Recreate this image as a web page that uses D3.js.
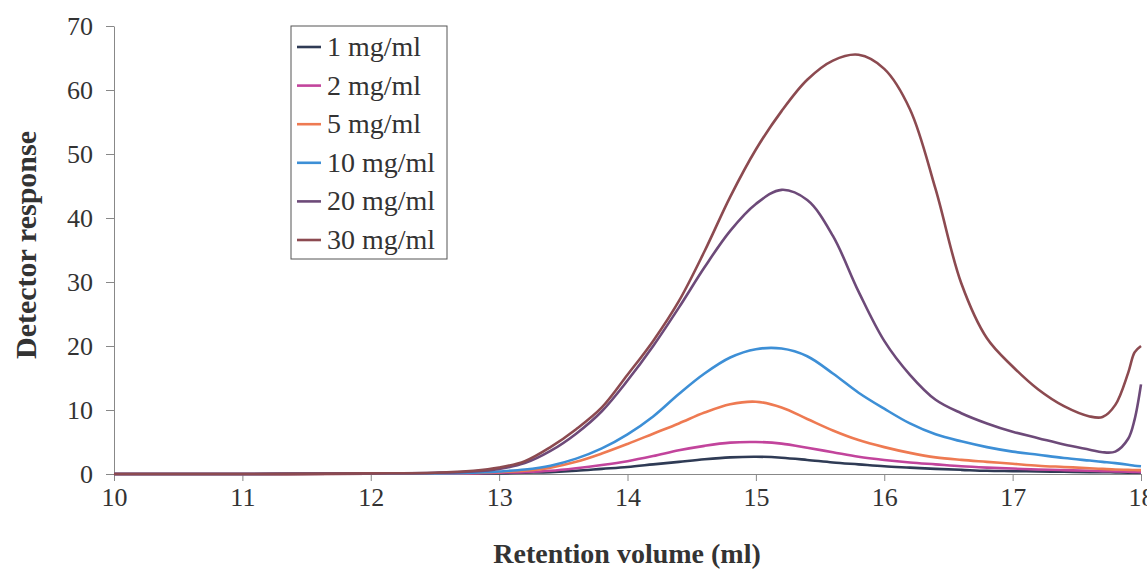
<html>
<head>
<script src="https://d3js.org/d3.v7.min.js"></script>
<style>
  body { margin: 0; background: #fff; }
  text { font-family: "Liberation Serif", "Times New Roman", serif; fill: #333; }
  .axis path, .axis line { stroke: #888; }
  .axis text { font-size: 26px; fill: #333; font-family: "Liberation Serif", serif; }
</style>
</head>
<body>
<svg width="1147" height="570"></svg>
<script>
// retention volume grid (ml)
var volume = [10, 11, 12, 12.5, 12.8, 13, 13.2, 13.4, 13.6, 13.8, 14, 14.2, 14.4, 14.6, 14.8, 15, 15.2, 15.4, 15.6, 15.8, 16, 16.2, 16.4, 16.6, 16.8, 17, 17.2, 17.4, 17.6, 17.7, 17.8, 17.9, 17.95, 18];

var c1  = [0, 0, 0.05, 0.05, 0.05, 0.1, 0.2, 0.3, 0.5, 0.8, 1.1, 1.5, 1.9, 2.3, 2.6, 2.7, 2.55, 2.2, 1.8, 1.5, 1.2, 1.0, 0.8, 0.65, 0.5, 0.45, 0.4, 0.35, 0.3, 0.28, 0.25, 0.22, 0.21, 0.2];
var c2  = [0, 0, 0.05, 0.05, 0.1, 0.2, 0.3, 0.5, 0.9, 1.4, 2.0, 2.8, 3.7, 4.4, 4.9, 5.0, 4.75, 4.1, 3.4, 2.7, 2.2, 1.8, 1.5, 1.2, 1.0, 0.85, 0.7, 0.6, 0.5, 0.45, 0.4, 0.35, 0.32, 0.3];
var c5  = [0, 0, 0.05, 0.1, 0.15, 0.3, 0.5, 1.0, 1.9, 3.2, 4.7, 6.3, 7.9, 9.6, 10.9, 11.3, 10.4, 8.6, 6.8, 5.3, 4.2, 3.3, 2.6, 2.2, 1.9, 1.6, 1.3, 1.1, 0.9, 0.8, 0.7, 0.65, 0.62, 0.6];
var c10 = [0, 0, 0.1, 0.1, 0.2, 0.4, 0.7, 1.3, 2.4, 4.0, 6.2, 9.0, 12.5, 15.7, 18.2, 19.5, 19.6, 18.4, 15.7, 12.7, 10.2, 7.9, 6.2, 5.1, 4.2, 3.5, 3.0, 2.5, 2.1, 1.9, 1.7, 1.45, 1.3, 1.2];
var c20 = [0, 0, 0.1, 0.2, 0.4, 0.8, 1.7, 3.6, 6.3, 9.8, 14.6, 20.0, 26.0, 32.3, 38.0, 42.2, 44.4, 42.8, 37.2, 28.5, 20.8, 15.5, 11.6, 9.5, 7.9, 6.6, 5.6, 4.6, 3.8, 3.4, 3.5, 5.5, 8.5, 14];
var c30 = [0, 0, 0.1, 0.2, 0.5, 1.0, 2.0, 4.2, 7.0, 10.4, 15.5, 20.8, 27.0, 34.8, 43.3, 50.7, 56.7, 61.6, 64.6, 65.5, 63.3, 57.0, 44.5, 29.8, 21.2, 16.8, 13.2, 10.6, 9.0, 8.9, 10.8, 15.8, 19.0, 20.0];

var seriesNames = ["1 mg/ml", "2 mg/ml", "5 mg/ml", "10 mg/ml", "20 mg/ml", "30 mg/ml"];
var seriesColors = ["#2f3b55", "#c2449c", "#ee7a52", "#3d8fd6", "#6d4a79", "#8c4a50"];
var seriesValues = [c1, c2, c5, c10, c20, c30];

var xTicks = [10, 11, 12, 13, 14, 15, 16, 17, 18];
var yTicks = [0, 10, 20, 30, 40, 50, 60, 70];

var svg = d3.select("svg");
var mLeft = 114, mRight = 1141, mTop = 26, mBottom = 474;

var x = d3.scaleLinear().domain([10, 18]).range([mLeft, mRight]);
var y = d3.scaleLinear().domain([0, 70]).range([mBottom, mTop]);

// axes
svg.append("g").attr("class", "axis")
  .attr("transform", "translate(0," + mBottom + ")")
  .call(d3.axisBottom(x).tickValues(xTicks).tickSize(7).tickSizeOuter(0).tickPadding(7).tickFormat(d3.format("d")));

svg.append("g").attr("class", "axis")
  .attr("transform", "translate(" + mLeft + ",0)")
  .call(d3.axisLeft(y).tickValues(yTicks).tickSize(8).tickSizeOuter(0).tickPadding(13).tickFormat(d3.format("d")));

// lines
var line = d3.line()
  .x(function(d) { return x(d[0]); })
  .y(function(d) { return y(d[1]); })
  .curve(d3.curveCatmullRom.alpha(0.5));

seriesValues.forEach(function(vals, i) {
  var pts = volume.map(function(v, j) { return [v, vals[j]]; });
  svg.append("path")
    .datum(pts)
    .attr("d", line)
    .attr("fill", "none")
    .attr("stroke", seriesColors[i])
    .attr("stroke-width", 2.6);
});

// axis titles
svg.append("text")
  .attr("x", 627).attr("y", 563)
  .attr("text-anchor", "middle")
  .attr("font-size", 28).attr("font-weight", "bold")
  .text("Retention volume (ml)");

svg.append("text")
  .attr("transform", "translate(36,245) rotate(-90)")
  .attr("text-anchor", "middle")
  .attr("font-size", 30).attr("font-weight", "bold")
  .text("Detector response");

// legend
var lg = svg.append("g").attr("transform", "translate(291,26)");
lg.append("rect").attr("width", 156).attr("height", 233)
  .attr("fill", "#fff").attr("stroke", "#555").attr("stroke-width", 1);
seriesNames.forEach(function(name, i) {
  var yy = 21 + i * 38.6;
  lg.append("line").attr("x1", 6).attr("x2", 30).attr("y1", yy).attr("y2", yy)
    .attr("stroke", seriesColors[i]).attr("stroke-width", 2.6);
  lg.append("text").attr("x", 36).attr("y", yy + 9)
    .attr("font-size", 28).text(name);
});
</script>
</body>
</html>
